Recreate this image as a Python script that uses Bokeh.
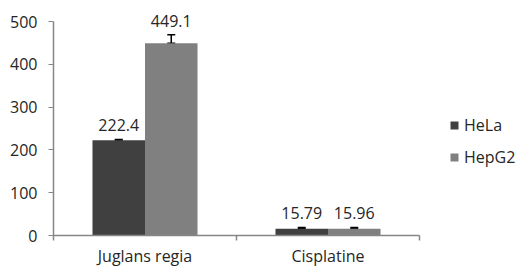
from bokeh.plotting import figure
from bokeh.models import ColumnDataSource, Range1d, FixedTicker, Whisker, TeeHead, Legend, LegendItem, LabelSet
from bokeh.core.properties import value
from bokeh.transform import dodge
from bokeh.embed import file_html
from bokeh.resources import INLINE

categories = ["Juglans regia", "Cisplatine"]
series = ["HeLa", "HepG2"]
hela = [222.4, 15.79]
hepg2 = [449.1, 15.96]
hela_err = [2, 3]
hepg2_err = [20, 3]
y_ticks = [0, 100, 200, 300, 400, 500]
y_max = 500

colors = {"HeLa": "#404040", "HepG2": "#808080"}
FONT = "Open Sans"
FS = "16px"
TXT = "#262626"
AXC = "#868686"
BAR_W = 0.287

# layout (pixels)
LEFT, TOP = 53, 21
AXIS_W, AXIS_H = 366, 214     # size of the drawn axes
FRAME_W, FRAME_H = 464, 235   # plotting area incl. room for legend / labels

n = len(categories)
xs = [i + 0.5 for i in range(n)]
src = ColumnDataSource(dict(
    x=xs,
    HeLa=hela, HepG2=hepg2,
    HeLa_up=[v + e for v, e in zip(hela, hela_err)],
    HepG2_up=[v + e for v, e in zip(hepg2, hepg2_err)],
    HeLa_lbl=[str(v) for v in hela],
    HepG2_lbl=[str(v) for v in hepg2],
))

p = figure(frame_width=FRAME_W, frame_height=FRAME_H, output_backend="svg", toolbar_location=None,
           x_range=Range1d(0, n * FRAME_W / AXIS_W), y_range=Range1d(0, y_max * FRAME_H / AXIS_H),
           min_border_left=LEFT, min_border_right=0, min_border_top=0, min_border_bottom=28)
p.background_fill_color = "white"
p.border_fill_color = "white"
p.outline_line_color = None
p.xgrid.visible = False
p.ygrid.visible = False

offsets = {"HeLa": -BAR_W / 2, "HepG2": BAR_W / 2}
items = []
for s in series:
    r = p.vbar(x=dodge("x", offsets[s], range=p.x_range), top=s, width=BAR_W, bottom=0,
               source=src, fill_color=colors[s], line_color=None)
    items.append(LegendItem(label=s, renderers=[r]))
    w = Whisker(base=dodge("x", offsets[s], range=p.x_range), lower=s, upper=s + "_up", source=src,
                line_color="black", line_width=1.5,
                upper_head=TeeHead(size=8, line_color="black", line_width=1.5),
                lower_head=TeeHead(size=8, line_color="black", line_width=1.5))
    p.add_layout(w)
    lbl = LabelSet(x=dodge("x", offsets[s], range=p.x_range), y=s + "_up", text=s + "_lbl", source=src,
                   text_align="center", text_baseline="bottom", y_offset=8,
                   text_font=value(FONT), text_font_size=value(FS), text_color=TXT)
    p.add_layout(lbl)

# y axis
p.yaxis.bounds = (0, y_max)
p.yaxis.ticker = FixedTicker(ticks=y_ticks)
p.yaxis.axis_line_color = AXC
p.yaxis.axis_line_width = 1.5
p.yaxis.major_tick_line_color = AXC
p.yaxis.major_tick_out = 5
p.yaxis.major_tick_in = 0
p.yaxis.minor_tick_line_color = None
p.yaxis.major_label_standoff = 11
p.yaxis.major_label_text_font = FONT
p.yaxis.major_label_text_font_size = FS
p.yaxis.major_label_text_color = TXT

# x axis
p.xaxis.bounds = (0, n)
p.xaxis.ticker = FixedTicker(ticks=xs, minor_ticks=list(range(n + 1)))
p.xaxis.major_label_overrides = {x: c for x, c in zip(xs, categories)}
p.xaxis.axis_line_color = AXC
p.xaxis.axis_line_width = 1.5
p.xaxis.major_tick_line_color = None
p.xaxis.major_tick_out = 0
p.xaxis.major_tick_in = 0
p.xaxis.minor_tick_line_color = AXC
p.xaxis.minor_tick_line_width = 1.5
p.xaxis.minor_tick_out = 5
p.xaxis.minor_tick_in = 0
p.xaxis.major_label_standoff = 4
p.xaxis.major_label_text_font = FONT
p.xaxis.major_label_text_font_size = FS
p.xaxis.major_label_text_color = TXT

legend = Legend(items=items, location=(396, 67), orientation="vertical",
                glyph_width=10, glyph_height=10, label_height=10, spacing=10,
                label_standoff=5, padding=0, margin=0,
                border_line_color=None, background_fill_alpha=0,
                label_text_font=FONT, label_text_font_size=FS, label_text_color=TXT,
                label_text_baseline="middle")
p.add_layout(legend, "center")

open("out.html", "w").write(file_html(p, INLINE))
